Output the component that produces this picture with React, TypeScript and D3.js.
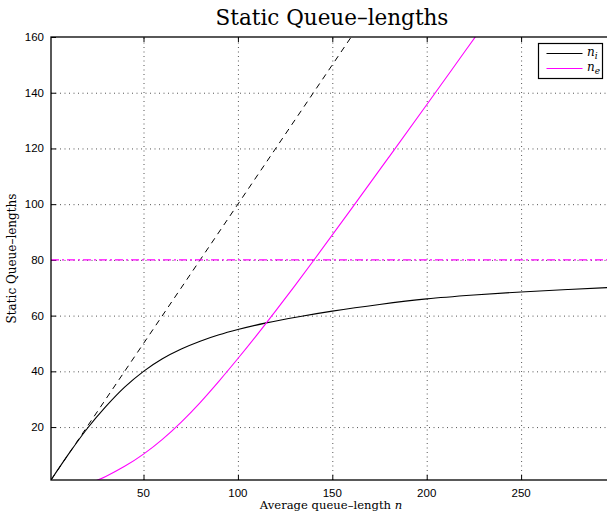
import React, { useEffect, useRef } from 'react';
import * as d3 from 'd3';

// average queue-length n and the static queue-lengths
const niX = [1, 10, 20, 30, 40, 50, 60, 70, 80, 90, 100, 115, 133, 150, 175, 200, 225, 250, 275, 300];
const niY = [1, 10, 19.3, 27.3, 34.3, 40, 44.5, 48, 50.8, 53.1, 55, 57.4, 59.7, 61.6, 64, 66, 67.4, 68.5, 69.4, 70.2];

const neX = [25, 30, 40, 50, 60, 70, 80, 90, 100, 110, 120, 130, 140, 160, 180, 200, 220, 240];
const neY = [0.8, 2.3, 5.9, 10.3, 15.6, 21.8, 28.8, 36.5, 44.6, 53, 61.7, 70.6, 79.7, 98.2, 116.9, 135.7, 154.6, 173.5];

// n_i = n reference (dashed)
const refX = [1, 165];
const refY = [1, 165];

const neLimit = 80;

const xTicks = [50, 100, 150, 200, 250];
const yTicks = [20, 40, 60, 80, 100, 120, 140, 160];

const width = 607;
const height = 517;

const App = () => {
    const ref = useRef<SVGSVGElement>(null);

    useEffect(() => {
        const svg = d3.select(ref.current);
        svg.selectAll('*').remove();

        const x = d3.scaleLinear().domain([1, 300]).range([51, 615.5]);
        const y = d3.scaleLinear().domain([1, 160]).range([480, 37]);
        const [x0, x1] = x.range();
        const [y0, y1] = y.range();

        svg.append('clipPath')
           .attr('id', 'plot-clip')
           .append('rect')
           .attr('x', x0).attr('y', y1)
           .attr('width', x1 - x0).attr('height', y0 - y1);

        // dotted grid
        const grid = svg.append('g')
                        .attr('stroke', '#555')
                        .attr('stroke-width', 1)
                        .attr('stroke-dasharray', '1,3.5');
        grid.selectAll('.gx')
            .data(xTicks)
            .enter()
            .append('line')
            .attr('x1', d => x(d) + 0.5).attr('x2', d => x(d) + 0.5)
            .attr('y1', y0).attr('y2', y1);
        grid.selectAll('.gy')
            .data(yTicks.filter(d => d < 160))
            .enter()
            .append('line')
            .attr('x1', x0).attr('x2', x1)
            .attr('y1', d => y(d) + 0.5).attr('y2', d => y(d) + 0.5);

        // tick marks (inside, mirrored on top)
        const ticks = svg.append('g').attr('stroke', '#000').attr('stroke-width', 1);
        xTicks.forEach(t => {
            ticks.append('line').attr('x1', x(t) + 0.5).attr('x2', x(t) + 0.5).attr('y1', y0).attr('y2', y0 - 5);
            ticks.append('line').attr('x1', x(t) + 0.5).attr('x2', x(t) + 0.5).attr('y1', y1).attr('y2', y1 + 5);
        });
        yTicks.forEach(t => {
            ticks.append('line').attr('x1', x0).attr('x2', x0 + 5).attr('y1', y(t) + 0.5).attr('y2', y(t) + 0.5);
        });

        const plot = svg.append('g').attr('clip-path', 'url(#plot-clip)');

        const line = (xs: number[], ys: number[]) =>
            d3.line<number>()
              .x((d, i) => x(xs[i]))
              .y(d => y(d))
              .curve(d3.curveMonotoneX)(ys);

        plot.append('path')
            .attr('d', line(refX, refY))
            .attr('fill', 'none')
            .attr('stroke', '#000')
            .attr('stroke-width', 1)
            .attr('stroke-dasharray', '6,5');

        plot.append('line')
            .attr('x1', x0).attr('x2', x1)
            .attr('y1', y(neLimit)).attr('y2', y(neLimit))
            .attr('stroke', '#ff00ff')
            .attr('stroke-width', 1.2)
            .attr('stroke-dasharray', '8,3,2,3');

        plot.append('path')
            .attr('d', line(niX, niY))
            .attr('fill', 'none')
            .attr('stroke', '#000')
            .attr('stroke-width', 1.1);

        plot.append('path')
            .attr('d', line(neX, neY))
            .attr('fill', 'none')
            .attr('stroke', '#ff00ff')
            .attr('stroke-width', 1.1);

        // frame
        svg.append('rect')
           .attr('x', x0).attr('y', y1)
           .attr('width', x1 - x0).attr('height', y0 - y1)
           .attr('fill', 'none')
           .attr('stroke', '#000')
           .attr('stroke-width', 1.3);

        // tick labels
        svg.selectAll('.xl')
           .data(xTicks)
           .enter()
           .append('text')
           .text(d => d)
           .attr('x', d => x(d))
           .attr('y', 496.5)
           .attr('text-anchor', 'middle')
           .style('font-family', 'Liberation Sans, Arial, sans-serif')
           .style('font-size', '11.5px');

        svg.selectAll('.yl')
           .data(yTicks)
           .enter()
           .append('text')
           .text(d => d)
           .attr('x', 44)
           .attr('y', d => y(d) + 4)
           .attr('text-anchor', 'end')
           .style('font-family', 'Liberation Sans, Arial, sans-serif')
           .style('font-size', '11.5px');

        // titles
        svg.append('text')
           .attr('x', 332)
           .attr('y', 25)
           .attr('text-anchor', 'middle')
           .style('font-family', 'DejaVu Serif, serif')
           .style('font-size', '21.5px')
           .text('Static Queue–lengths');

        const xl = svg.append('text')
                      .attr('x', 331)
                      .attr('y', 508.5)
                      .attr('text-anchor', 'middle')
                      .style('font-family', 'DejaVu Serif, serif')
                      .style('font-size', '11.6px')
                      .text('Average queue–length ');
        xl.append('tspan').style('font-style', 'italic').text('n');

        svg.append('text')
           .attr('transform', `translate(16, ${(y0 + y1) / 2}) rotate(-90)`)
           .attr('text-anchor', 'middle')
           .style('font-family', 'DejaVu Serif, serif')
           .style('font-size', '12px')
           .text('Static Queue–lengths');

        // legend
        const legend = svg.append('g');
        legend.append('rect')
              .attr('x', 538.5).attr('y', 43.5)
              .attr('width', 64).attr('height', 35)
              .attr('fill', '#fff')
              .attr('stroke', '#000')
              .attr('stroke-width', 1.2);
        const items = [
            { sub: 'i', color: '#000', yy: 53.5 },
            { sub: 'e', color: '#ff00ff', yy: 68.5 },
        ];
        items.forEach(it => {
            legend.append('line')
                  .attr('x1', 546.5).attr('x2', 582.5)
                  .attr('y1', it.yy).attr('y2', it.yy)
                  .attr('stroke', it.color)
                  .attr('stroke-width', 1.1);
            const t = legend.append('text')
                            .attr('x', 587)
                            .attr('y', it.yy + 2)
                            .style('font-family', 'DejaVu Serif, serif')
                            .style('font-style', 'italic')
                            .style('font-size', '12px')
                            .text('n');
            t.append('tspan').attr('dy', 3).style('font-size', '9px').text(it.sub);
        });
    }, []);

    return (
        <svg ref={ref} width={width} height={height}
             style={{ position: 'absolute', left: 0, top: 0, background: '#fff' }} />
    );
};

export default App;
